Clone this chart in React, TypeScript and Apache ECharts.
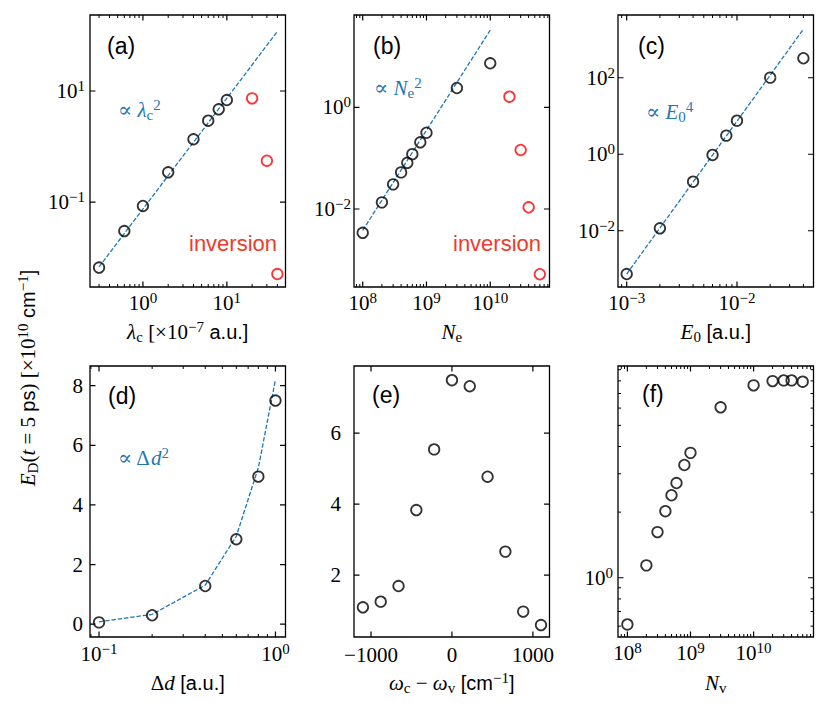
import React, { useEffect, useRef } from 'react';
import * as echarts from 'echarts';

// ---------- data ----------
// (a) energy vs cavity coupling lambda_c
const aLambda = [0.3, 0.6, 1, 2, 4, 6, 8, 10];
const aEnergy = [0.0066, 0.03, 0.085, 0.343, 1.35, 2.92, 4.68, 6.88];
const aInvLambda = [20, 30, 40];
const aInvEnergy = [7.38, 0.555, 0.00505];
const aFitLambda = [0.3, 40];
const aFitEnergy = [0.0068, 118];

// (b) energy vs N_e
const bNe = [1e8, 2e8, 3e8, 4e8, 5e8, 6e8, 8e8, 1e9, 3e9, 1e10];
const bEnergy = [0.0034, 0.0135, 0.0305, 0.0525, 0.081, 0.12, 0.205, 0.316, 2.4, 7.35];
const bInvNe = [2e10, 3e10, 4e10, 6e10];
const bInvEnergy = [1.62, 0.145, 0.0108, 0.00052];
const bFitNe = [1e8, 1e10];
const bFitEnergy = [0.0038, 33];

// (c) energy vs E_0
const cE0 = [0.001, 0.002, 0.004, 0.006, 0.008, 0.01, 0.02, 0.04];
const cEnergy = [0.00074, 0.0116, 0.192, 0.96, 3.07, 7.56, 100.7, 323];
const cFitE0 = [0.001, 0.04];
const cFitEnergy = [0.00074, 1860];

// (d) energy vs Delta d
const dDelta = [0.1, 0.2, 0.4, 0.6, 0.8, 1.0];
const dEnergy = [0.06, 0.3, 1.28, 2.85, 4.95, 7.5];
const dFitEnergy = [0.08, 0.33, 1.31, 2.95, 5.25, 8.2];

// (e) energy vs detuning
const eDetuning = [-1100, -880, -660, -440, -220, 0, 220, 440, 660, 880, 1100];
const eEnergy = [1.09, 1.25, 1.69, 3.83, 5.54, 7.49, 7.32, 4.77, 2.66, 0.97, 0.59];

// (f) energy vs N_v
const fNv = [1e8, 2e8, 3e8, 4e8, 5e8, 6e8, 8e8, 1e9, 3e9, 1e10, 2e10, 3e10, 4e10, 6e10];
const fEnergy = [0.611, 1.14, 1.62, 2.02, 2.39, 2.72, 3.29, 3.74, 6.05, 7.63, 7.98, 8.04, 8.04, 7.93];

// tick values
const aXMajor = [1, 10];
const aYMajor = [0.1, 10];
const bXMajor = [1e8, 1e9, 1e10];
const bYMajor = [0.01, 1];
const cXMajor = [0.001, 0.01];
const cYMajor = [0.01, 1, 100];
const dXMajor = [0.1, 1];
const dYMajor = [0, 2, 4, 6, 8];
const eXMajor = [-1000, 0, 1000];
const eYMajor = [2, 4, 6];
const fXMajor = [1e8, 1e9, 1e10];
const fYMajor = [1];

// axis extents
const aXRange = [0.234, 50];
const aYRange = [0.00295, 234];
const bXRange = [7.3e7, 8.5e10];
const bYRange = [2.92e-4, 65.5];
const cXRange = [8.34e-4, 0.0494];
const cYRange = [3.39e-4, 4365];
const dXRange = [0.0889, 1.14];
const dYRange = [-0.43, 8.66];
const eXRange = [-1210, 1205];
const eYRange = [0.254, 7.89];
const fXRange = [7.1e7, 8.9e10];
const fYRange = [0.535, 9.36];

// ---------- styling ----------
const SERIF = '"Liberation Serif", "DejaVu Serif", serif';
const SANS = '"Liberation Sans", "DejaVu Sans", Arial, sans-serif';
const BLUE = '#1f77b4';
const RED = '#ff0000';
const RED_TEXT = '#ef3b2c';
const FS = 21;
const SUP = 15;
const LH = 25;
const MAJOR_LEN = 5.5;
const MINOR_LEN = 3;

const lg = (v: number) => Math.log10(v);
const minus = (n: number) => (n < 0 ? '\u2212' + Math.abs(n) : String(n));

function makeRich(color: string, graphic: boolean) {
  const c = graphic ? { fill: color } : { color };
  return {
    b: { fontFamily: SERIF, fontSize: FS, lineHeight: LH, ...c },
    i: { fontFamily: SERIF, fontSize: FS, fontStyle: 'italic', lineHeight: LH, ...c },
    s: { fontFamily: SERIF, fontSize: SUP, verticalAlign: 'top', ...c },
    sub: { fontFamily: SERIF, fontSize: SUP, verticalAlign: 'bottom', ...c },
    sans: { fontFamily: SANS, fontSize: FS - 1, lineHeight: LH, ...c },
  };
}
const labelRich = makeRich('#000', false);

const fmtLog = (v: number) => '{b|10}{s|' + minus(Math.round(v)) + '}';
const fmtLin = (v: number) => '{b|' + minus(Math.round(v)) + '}';

function minorLogTicks(r: number[]) {
  const [lo, hi] = r;
  const out: number[] = [];
  for (let n = Math.floor(lo) - 1; n <= Math.ceil(hi); n++) {
    for (let k = 2; k <= 9; k++) {
      const v = n + Math.log10(k);
      if (v > lo + 1e-9 && v < hi - 1e-9) out.push(v);
    }
  }
  return out;
}

type AxisSpec = {
  log: boolean;
  range: number[];
  major: number[];
  minor: boolean;
  margin: number;
  name?: string;
  nameGap?: number;
};

type Note = { text: string; dx: number; dy: number; color: string; size?: number };

type PanelSpec = {
  rect: number[];
  x: AxisSpec;
  y: AxisSpec;
  series: any[];
  notes: Note[];
};

function pts(xs: number[], ys: number[], xlog: boolean, ylog: boolean) {
  return xs.map((x, k) => [xlog ? lg(x) : x, ylog ? lg(ys[k]) : ys[k]]);
}

function circles(data: number[][], color: string) {
  return {
    type: 'scatter',
    data,
    symbol: 'circle',
    symbolSize: 10.5,
    itemStyle: { color: 'rgba(0,0,0,0)', borderColor: color, borderWidth: 1.8 },
    silent: true,
    z: 3,
  };
}

function fit(data: number[][]) {
  return {
    type: 'line',
    data,
    showSymbol: false,
    symbol: 'none',
    lineStyle: { color: BLUE, width: 1.3, type: [4.4, 1.9] },
    silent: true,
    z: 2,
  };
}

// inward tick marks on all four sides, as broken line segments in data space
function tickLine(
  xr: number[],
  yr: number[],
  xs: number[],
  ys: number[],
  lenPx: number,
  width: number,
  rectW: number,
  rectH: number,
) {
  const dx = (lenPx * (xr[1] - xr[0])) / rectW;
  const dy = (lenPx * (yr[1] - yr[0])) / rectH;
  const gap = [NaN, NaN];
  const data: number[][] = [];
  xs.forEach((v) => {
    data.push([v, yr[0]], [v, yr[0] + dy], gap);
    data.push([v, yr[1]], [v, yr[1] - dy], gap);
  });
  ys.forEach((v) => {
    data.push([xr[0], v], [xr[0] + dx, v], gap);
    data.push([xr[1], v], [xr[1] - dx, v], gap);
  });
  return {
    type: 'line',
    data,
    showSymbol: false,
    symbol: 'none',
    connectNulls: false,
    smooth: false,
    clip: false,
    lineStyle: { color: '#000', width, type: 'solid', cap: 'butt' },
    silent: true,
    z: 4,
  };
}

const COLS = [90, 354, 618];
const ROWS = [15, 366];
const PW = 195.5;
const PH = [272, 271];

const panels: PanelSpec[] = [
  {
    rect: [COLS[0], ROWS[0], PW, PH[0]],
    x: { log: true, range: aXRange, major: aXMajor, minor: true, margin: 3, name: '{i|\u03bb}{sub|c}{b| [\u00d710}{s|\u22127}{sans| a.u.]}', nameGap: 32 },
    y: { log: true, range: aYRange, major: aYMajor, minor: false, margin: 5 },
    series: [
      fit(pts(aFitLambda, aFitEnergy, true, true)),
      circles(pts(aLambda, aEnergy, true, true), '#000'),
      circles(pts(aInvLambda, aInvEnergy, true, true), RED),
    ],
    notes: [
      { text: '{sans|(a)}', dx: 17, dy: 31, color: '#000', size: 23 },
      { text: '{b|\u221d }{i|\u03bb}{sub|c}{s|2}', dx: 28, dy: 95, color: BLUE },
      { text: '{sans|inversion}', dx: 99, dy: 228, color: RED_TEXT, size: 22 },
    ],
  },
  {
    rect: [COLS[1], ROWS[0], PW, PH[0]],
    x: { log: true, range: bXRange, major: bXMajor, minor: true, margin: 3, name: '{i|N}{sub|e}', nameGap: 32 },
    y: { log: true, range: bYRange, major: bYMajor, minor: false, margin: 3 },
    series: [
      fit(pts(bFitNe, bFitEnergy, true, true)),
      circles(pts(bNe, bEnergy, true, true), '#000'),
      circles(pts(bInvNe, bInvEnergy, true, true), RED),
    ],
    notes: [
      { text: '{sans|(b)}', dx: 19, dy: 31, color: '#000', size: 23 },
      { text: '{b|\u221d }{i|N}{sub|e}{s|2}', dx: 20, dy: 73, color: BLUE },
      { text: '{sans|inversion}', dx: 99, dy: 228, color: RED_TEXT, size: 22 },
    ],
  },
  {
    rect: [COLS[2], ROWS[0], PW, PH[0]],
    x: { log: true, range: cXRange, major: cXMajor, minor: true, margin: 3, name: '{i|E}{sub|0}{sans| [a.u.]}', nameGap: 32 },
    y: { log: true, range: cYRange, major: cYMajor, minor: false, margin: 3 },
    series: [
      fit(pts(cFitE0, cFitEnergy, true, true)),
      circles(pts(cE0, cEnergy, true, true), '#000'),
    ],
    notes: [
      { text: '{sans|(c)}', dx: 20, dy: 31, color: '#000', size: 23 },
      { text: '{b|\u221d }{i|E}{sub|0}{s|4}', dx: 28, dy: 97, color: BLUE },
    ],
  },
  {
    rect: [COLS[0], ROWS[1], PW, PH[1]],
    x: { log: true, range: dXRange, major: dXMajor, minor: true, margin: 4, name: '{b|\u0394}{i|d}{sans| [a.u.]}', nameGap: 33 },
    y: { log: false, range: dYRange, major: dYMajor, minor: false, margin: 7 },
    series: [
      fit(pts(dDelta, dFitEnergy, true, false)),
      circles(pts(dDelta, dEnergy, true, false), '#000'),
    ],
    notes: [
      { text: '{sans|(d)}', dx: 18, dy: 30, color: '#000', size: 23 },
      { text: '{b|\u221d \u0394}{i|d}{s|2}', dx: 28, dy: 92, color: BLUE },
    ],
  },
  {
    rect: [COLS[1], ROWS[1], PW, PH[1]],
    x: { log: false, range: eXRange, major: eXMajor, minor: false, margin: 5, name: '{i|\u03c9}{sub|c}{b| \u2212 }{i|\u03c9}{sub|v}{sans| [cm}{s|\u22121}{sans|]}', nameGap: 33 },
    y: { log: false, range: eYRange, major: eYMajor, minor: false, margin: 13 },
    series: [circles(pts(eDetuning, eEnergy, false, false), '#000')],
    notes: [{ text: '{sans|(e)}', dx: 18, dy: 29, color: '#000', size: 23 }],
  },
  {
    rect: [COLS[2], ROWS[1], PW, PH[1]],
    x: { log: true, range: fXRange, major: fXMajor, minor: true, margin: 3, name: '{i|N}{sub|v}', nameGap: 33 },
    y: { log: true, range: fYRange, major: fYMajor, minor: true, margin: 5 },
    series: [circles(pts(fNv, fEnergy, true, true), '#000')],
    notes: [{ text: '{sans|(f)}', dx: 24, dy: 28, color: '#000', size: 23 }],
  },
];

function mkAxis(gridIndex: number, position: string, range: number[], ticks: number[], spec: AxisSpec) {
  const ax: any = {
    type: 'value',
    gridIndex,
    position,
    min: range[0],
    max: range[1],
    axisLine: { show: false, onZero: false },
    axisTick: { show: false },
    splitLine: { show: false },
    axisLabel: {
      show: true,
      customValues: ticks,
      margin: spec.margin,
      formatter: spec.log ? fmtLog : fmtLin,
      rich: labelRich,
      color: '#000',
      hideOverlap: false,
    },
  };
  if (spec.name) {
    ax.name = spec.name;
    ax.nameLocation = 'middle';
    ax.nameGap = spec.nameGap;
    ax.nameTextStyle = { rich: labelRich, color: '#000' };
    ax.nameMoveOverlap = false;
  }
  return ax;
}

function buildOption() {
  const grid: any[] = [];
  const xAxis: any[] = [];
  const yAxis: any[] = [];
  const series: any[] = [];
  const graphic: any[] = [];

  panels.forEach((p, i) => {
    const [left, top, width, height] = p.rect;
    grid.push({ left, top, width, height, show: true, borderColor: '#000', borderWidth: 1.3, backgroundColor: 'rgba(0,0,0,0)', containLabel: false, outerBoundsMode: 'none' });

    const xr = p.x.log ? p.x.range.map(lg) : p.x.range;
    const yr = p.y.log ? p.y.range.map(lg) : p.y.range;
    const xMaj = p.x.major.map((v) => (p.x.log ? lg(v) : v)).filter((v) => v >= xr[0] && v <= xr[1]);
    const yMaj = p.y.major.map((v) => (p.y.log ? lg(v) : v)).filter((v) => v >= yr[0] && v <= yr[1]);
    const xMin = p.x.log && p.x.minor ? minorLogTicks(xr) : [];
    const yMin = p.y.log && p.y.minor ? minorLogTicks(yr) : [];

    xAxis.push(mkAxis(i, 'bottom', xr, xMaj, p.x));
    yAxis.push(mkAxis(i, 'left', yr, yMaj, p.y));

    p.series.forEach((s) => series.push({ ...s, xAxisIndex: i, yAxisIndex: i }));
    series.push({ ...tickLine(xr, yr, xMaj, yMaj, MAJOR_LEN, 1.2, width, height), xAxisIndex: i, yAxisIndex: i });
    if (xMin.length || yMin.length) {
      series.push({ ...tickLine(xr, yr, xMin, yMin, MINOR_LEN, 1, width, height), xAxisIndex: i, yAxisIndex: i });
    }

    p.notes.forEach((n) => {
      const rich: any = makeRich(n.color, true);
      if (n.size) rich.sans = { ...rich.sans, fontSize: n.size, lineHeight: n.size + 4 };
      graphic.push({
        type: 'text',
        x: left + n.dx,
        y: top + n.dy,
        z: 10,
        style: { text: n.text, rich, fill: n.color, align: 'left', verticalAlign: 'middle', textAlign: 'left', textVerticalAlign: 'middle' },
      });
    });
  });

  graphic.push({
    type: 'text',
    x: 28,
    y: 378,
    rotation: Math.PI / 2,
    style: {
      text: '{i|E}{sub|D}{b|(}{i|t}{b| = 5 }{sans|ps}{b|) [\u00d710}{s|10}{sans| cm}{s|\u22121}{sans|]}',
      rich: makeRich('#000', true),
      fill: '#000',
      align: 'center',
      verticalAlign: 'middle',
      textAlign: 'center',
      textVerticalAlign: 'middle',
    },
  });

  return {
    animation: false,
    backgroundColor: '#ffffff',
    textStyle: { fontFamily: SERIF },
    grid,
    xAxis,
    yAxis,
    series,
    graphic,
  };
}

export default function App() {
  const ref = useRef<HTMLDivElement>(null);
  useEffect(() => {
    if (!ref.current) return;
    const chart = echarts.init(ref.current, undefined, { renderer: 'svg' });
    chart.setOption(buildOption() as any);
    return () => chart.dispose();
  }, []);
  return (
    <div
      ref={ref}
      style={{ position: 'absolute', left: 0, top: 0, width: 830, height: 708, background: '#fff' }}
    />
  );
}
